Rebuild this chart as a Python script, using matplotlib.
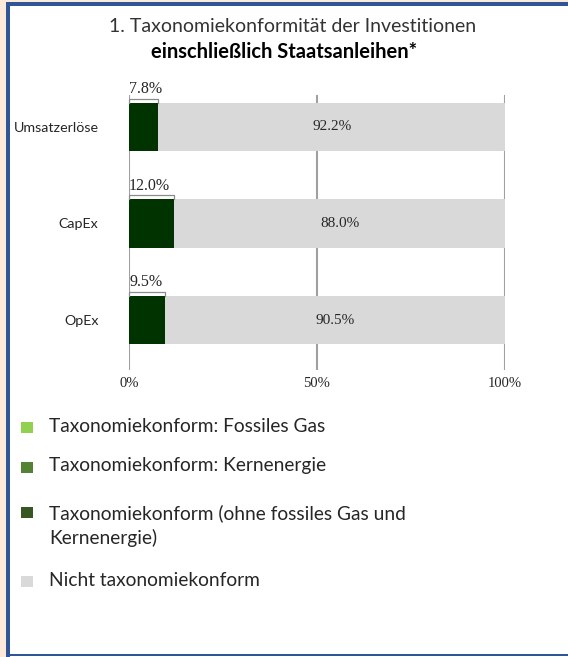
import matplotlib.pyplot as plt
from matplotlib.patches import Rectangle
import numpy as np

categories = ['Umsatzerlöse', 'CapEx', 'OpEx']
aligned = [7.8, 12.0, 9.5]
not_aligned = [92.2, 88.0, 90.5]
tick_vals = [0, 50, 100]
tick_labels = ['0%', '50%', '100%']

legend_labels = ['Taxonomiekonform: Fossiles Gas',
                 'Taxonomiekonform: Kernenergie',
                 'Taxonomiekonform (ohne fossiles Gas und\nKernenergie)',
                 'Nicht taxonomiekonform']
legend_colors = ['#92d050', '#548235', '#375623', '#d9d9d9']

W, H = 568, 657
fig = plt.figure(figsize=(W / 100, H / 100), dpi=100)
fig.patch.set_facecolor('white')

# frame: peach strip + blue border
def px_rect(x0, y0, x1, y1, color):
    fig.patches.append(Rectangle((x0 / W, 1 - y1 / H), (x1 - x0) / W, (y1 - y0) / H,
                                 transform=fig.transFigure, color=color, zorder=0, lw=0))

px_rect(0, 0, W, 2, '#fde9d9')
px_rect(0, 0, 6, H, '#fde9d9')
px_rect(6, 2, W, 6, '#2f5597')
px_rect(6, 2, 10, H, '#2f5597')
px_rect(6, 654, W, 656, '#2f5597')

sans = ['Lato', 'DejaVu Sans']
serif = ['Liberation Serif', 'DejaVu Serif']

fig.text(293 / W, 1 - 27 / H, '1. Taxonomiekonformität der Investitionen',
         ha='center', va='center', fontsize=14, family=sans, color='#333333')
fig.text(284 / W, 1 - 52 / H, 'einschließlich Staatsanleihen*',
         ha='center', va='center', fontsize=14.5, family=sans, weight='bold', color='black')

ax = fig.add_axes([129 / W, 1 - 370 / H, 376 / W, 275 / H])
y = np.arange(len(categories))
bh = 0.5
ax.barh(y, aligned, height=bh, color='#003300', zorder=2)
ax.barh(y, not_aligned, left=aligned, height=bh, color='#d9d9d9', zorder=2)

for yi, a, n in zip(y, aligned, not_aligned):
    ax.text(a + n / 2, yi, f'{n:.1f}%', ha='center', va='center',
            fontsize=11, family=serif, color='#262626', zorder=3)
    top = yi - bh / 2 - 0.045
    ax.plot([0, 0, a, a], [top + 0.045, top, top, top + 0.045],
            color='#8c8c8c', lw=0.9, zorder=3, clip_on=False)
    ax.text(0, top - 0.015, f'{a:.1f}%', ha='left', va='bottom',
            fontsize=11.5, family=serif, color='#262626')

ax.set_xlim(0, 100)
ax.set_ylim(2 + 50 / 96.5, -32 / 96.5)
ax.set_xticks(tick_vals)
ax.set_xticklabels(tick_labels, family=serif, fontsize=10.5, color='#262626')
ax.set_yticks(y)
ax.set_yticklabels(categories, family=sans, fontsize=10.3, color='#262626')
ax.tick_params(axis='x', length=0, pad=5)
ax.tick_params(axis='y', length=0, pad=22)
for s in ax.spines.values():
    s.set_visible(False)
ax.xaxis.grid(True, color='#a0a0a0', lw=1.5, zorder=0)
ax.set_axisbelow(True)

# legend
leg_y = [427, 467, 512, 581]
for ly, lab, col in zip(leg_y, legend_labels, legend_colors):
    px_rect(21, ly - 5, 33, ly + 6, col)
    if '\n' in lab:
        fig.text(49 / W, 1 - (ly + 13.5) / H, lab, ha='left', va='center',
                 fontsize=13.8, family=sans, color='#262626', linespacing=1.45)
    else:
        fig.text(49 / W, 1 - (ly - 1) / H, lab, ha='left', va='center',
                 fontsize=13.8, family=sans, color='#262626')

fig.savefig('out.png', dpi=100)
